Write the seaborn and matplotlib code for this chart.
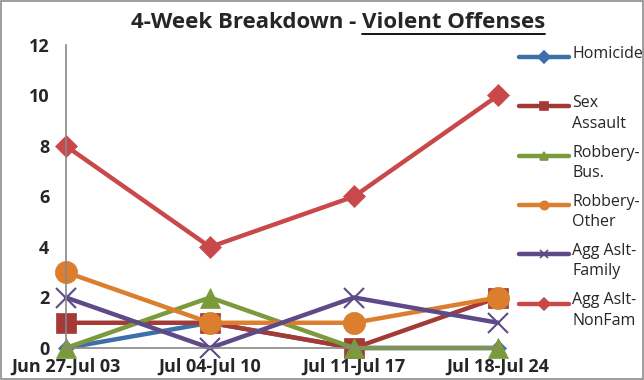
import matplotlib.pyplot as plt
import seaborn as sns
import pandas as pd
from matplotlib.lines import Line2D

weeks = ["Jun 27-Jul 03", "Jul 04-Jul 10", "Jul 11-Jul 17", "Jul 18-Jul 24"]
homicide = [0, 1, 0, 0]
sex_assault = [1, 1, 0, 2]
robbery_bus = [0, 2, 0, 0]
robbery_other = [3, 1, 1, 2]
agg_family = [2, 0, 2, 1]
agg_nonfam = [8, 4, 6, 10]

labels = ["Homicide", "Sex\nAssault", "Robbery-\nBus.", "Robbery-\nOther",
          "Agg Aslt-\nFamily", "Agg Aslt-\nNonFam"]
colors = ["#3F6FAA", "#A33A35", "#7A9A3C", "#DB7F2E", "#5F4A88", "#C9484A"]
markers = ["D", "s", "^", "o", "x", "D"]
msizes = [8, 15, 15, 16, 14, 11]


def main():
    sns.set_style("white")
    plt.rcParams["font.family"] = ["Open Sans", "DejaVu Sans"]

    W, H = 644, 380
    fig = plt.figure(figsize=(6.44, 3.8), dpi=100)
    ax = fig.add_axes([66 / W, 32 / H, 432 / W, 303 / H])

    series = [homicide, sex_assault, robbery_bus, robbery_other, agg_family, agg_nonfam]
    x = list(range(len(weeks)))
    for vals, lab, col, mk, ms in zip(series, labels, colors, markers, msizes):
        df = pd.DataFrame({"week": x, "count": vals})
        sns.lineplot(data=df, x="week", y="count", ax=ax, color=col, lw=3.2,
                     marker=mk, markersize=ms, markeredgecolor=col,
                     markeredgewidth=1.5 if mk == "x" else 0.5,
                     clip_on=False, legend=False)

    ax.set_xlim(0, 3)
    ax.set_ylim(0, 12)
    ax.set_yticks(range(0, 13, 2))
    ax.set_xticks(x)
    ax.set_xticklabels(weeks, fontweight="bold", fontsize=13)
    ax.set_yticklabels([str(v) for v in range(0, 13, 2)], fontweight="bold", fontsize=13)
    ax.set_xlabel("")
    ax.set_ylabel("")
    for s in ["top", "right"]:
        ax.spines[s].set_visible(False)
    for s in ["left", "bottom"]:
        ax.spines[s].set_color("#888888")
        ax.spines[s].set_linewidth(1.2)
    ax.tick_params(axis="y", direction="out", length=5, color="#888888", pad=7)
    ax.tick_params(axis="x", direction="out", length=4, color="#888888", pad=3)

    # legend drawn by hand so the key lines up with the first text line
    for i, (lab, col, mk) in enumerate(zip(labels, colors, markers)):
        yy = 1 - (57 + 49.3 * i) / H
        fig.add_artist(Line2D([519 / W, 569 / W], [yy, yy], color=col, lw=3.2,
                              solid_capstyle="round", transform=fig.transFigure))
        fig.add_artist(Line2D([544 / W], [yy], color=col, marker=mk, markersize=6,
                              markeredgecolor=col, markeredgewidth=1.2,
                              transform=fig.transFigure))
        fig.text(572 / W, yy + 11 / H, lab, fontsize=11.5, va="top", ha="left",
                 linespacing=1.35)

    # title with underlined part
    t1 = fig.text(0.5, 0.925, "4-Week Breakdown - ", fontsize=16, fontweight="bold",
                  ha="right", va="baseline")
    t2 = fig.text(0.5, 0.925, "Violent Offenses", fontsize=16, fontweight="bold",
                  ha="left", va="baseline")
    fig.canvas.draw()
    r = fig.canvas.get_renderer()
    w1 = t1.get_window_extent(r).width / fig.bbox.width
    w2 = t2.get_window_extent(r).width / fig.bbox.width
    shift = (w1 - w2) / 2 + 0.025
    t1.set_x(0.5 + shift)
    t2.set_x(0.5 + shift)
    fig.add_artist(Line2D([0.5 + shift, 0.5 + shift + w2], [0.91, 0.91],
                          color="black", lw=1.3, transform=fig.transFigure))

    fig.add_artist(plt.Rectangle((0.002, 0.002), 0.996, 0.996, fill=False,
                                 edgecolor="#8c8c8c", lw=1.2,
                                 transform=fig.transFigure))

    fig.savefig("out.png", dpi=100)


if __name__ == '__main__':
    main()
